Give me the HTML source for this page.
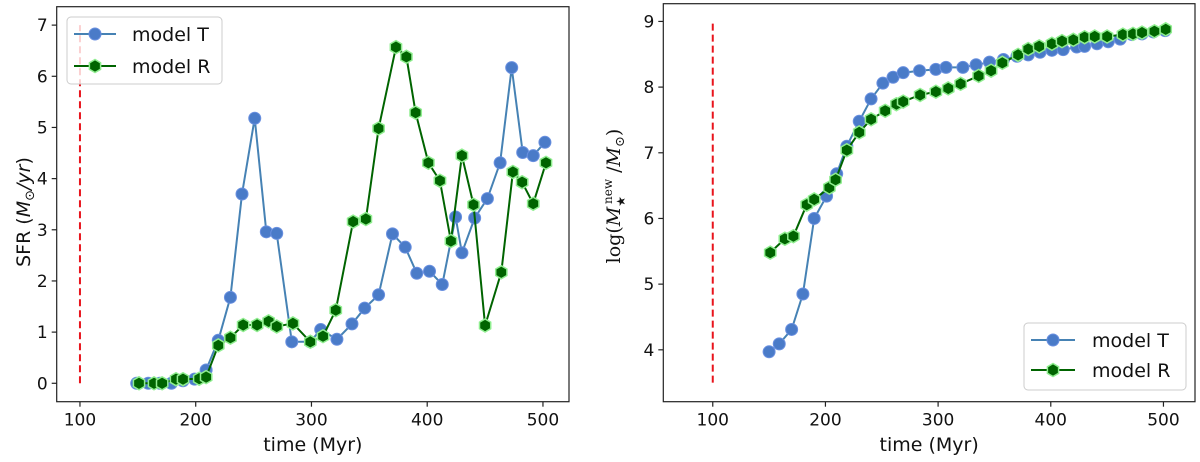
<!DOCTYPE html>
<html><head><meta charset="utf-8"><style>
body{margin:0;background:#fff}
svg{display:block;font-family:"DejaVu Sans","Liberation Sans",sans-serif}
</style></head><body>
<svg id="fig" width="1200" height="462" viewBox="0 0 1200 462"></svg>
<script>
const leftTTimes=[149,159,169,179,189,199,209,219.5,230,240,251,261,270,283,299,308,322,335,346,358,370,381,391,402,413,424.5,430,441,452,463,473,482.5,491.6,501.7];
const leftTValues=[0,0,0,0,0.05,0.08,0.26,0.84,1.68,3.70,5.18,2.96,2.93,0.81,0.81,1.05,0.86,1.16,1.47,1.73,2.92,2.66,2.15,2.19,1.93,3.25,2.55,3.23,3.61,4.31,6.17,4.51,4.45,4.71];
const leftRTimes=[151,164,171,183,189,203,209,219.5,230,241,253,263,270,284,299,310,321,336,347,358,373,382,390,401,411,420.5,430,440,450,464,474,482,491.6,502.6];
const leftRValues=[0,0,0,0.08,0.08,0.09,0.12,0.74,0.89,1.14,1.14,1.21,1.11,1.17,0.81,0.92,1.43,3.16,3.21,4.98,6.57,6.38,5.29,4.31,3.96,2.78,4.45,3.49,1.13,2.17,4.13,3.93,3.51,4.31];
const rightTTimes=[150,159,170,180,190,201,210,219,230,240.5,251,260,269,283.5,298,307,322,333.7,345.6,358,370,380,390.5,401,411,423,430,441,451,461.6,472,481,491,501.5];
const rightTValues=[3.97,4.09,4.31,4.85,6.0,6.34,6.68,7.1,7.48,7.82,8.06,8.15,8.22,8.25,8.27,8.30,8.30,8.34,8.38,8.42,8.47,8.49,8.53,8.56,8.57,8.61,8.62,8.66,8.69,8.73,8.80,8.81,8.84,8.86];
const rightRTimes=[151,164,171.6,183.4,190,203.5,209,219,230,240.5,253,263,269,284,298,309,320,336,347,357,371,380,389.7,401,410,420,430,439,450,464,473,481,492,502];
const rightRValues=[5.48,5.69,5.73,6.21,6.29,6.47,6.59,7.04,7.31,7.51,7.64,7.74,7.78,7.88,7.93,7.98,8.05,8.17,8.25,8.37,8.49,8.58,8.62,8.66,8.70,8.72,8.76,8.77,8.77,8.80,8.81,8.83,8.85,8.88];
const xTickLabels=[100,200,300,400,500];
const leftYTicks=[0,1,2,3,4,5,6,7];
const rightYTicks=[4,5,6,7,8,9];

const NS="http://www.w3.org/2000/svg";
const svg=document.getElementById('fig');
function mk(tag,attrs,parent){const e=document.createElementNS(NS,tag);for(const k in attrs)e.setAttribute(k,attrs[k]);(parent||svg).appendChild(e);return e;}

function panel(cfg){
  const g=mk('g',{});
  
  
  const sx=v=>cfg.x0+(v-cfg.xmin)/(cfg.xmax-cfg.xmin)*(cfg.x1-cfg.x0);
  const sy=v=>cfg.y1-(v-cfg.ymin)/(cfg.ymax-cfg.ymin)*(cfg.y1-cfg.y0);
  // red dashed line
  const rl=mk('line',{x1:sx(100),x2:sx(100),y1:sy(cfg.redLo),y2:sy(cfg.redHi),stroke:'#e8141c','stroke-width':2,'stroke-dasharray':'7,4'},g);
  
  
  // series
  function series(times,vals,color,isR,nm){
    const sg=mk('g',{},g);
    
    
    const pts=times.map((t,i)=>sx(t).toFixed(1)+','+sy(vals[i]).toFixed(1)).join(' ');
    mk('polyline',{points:pts,fill:'none',stroke:color,'stroke-width':2},sg);
    times.forEach((t,i)=>{
      const cx=sx(t),cy=sy(vals[i]);let m;
      if(isR){m=mk('polygon',{points:hex(cx,cy,6.5),fill:'#006400',stroke:'#90ee90','stroke-width':1.5},sg);}
      else{m=mk('circle',{cx:cx,cy:cy,r:6,fill:'#4a7bc8',stroke:'#6a90e0','stroke-width':1},sg);}
      
      
    });
  }
  series(cfg.tT,cfg.tV,'#4682b4',false,'model-t-series');
  series(cfg.rT,cfg.rV,'#006400',true,'model-r-series');
  // frame
  const fr=mk('rect',{x:cfg.x0,y:cfg.y0,width:cfg.x1-cfg.x0,height:cfg.y1-cfg.y0,fill:'none',stroke:'#222','stroke-width':1.2},g);
  
  
  xTickLabels.forEach(v=>{
    const x=sx(v);
    mk('line',{x1:x,x2:x,y1:cfg.y1,y2:cfg.y1+5,stroke:'#222','stroke-width':1.2},g);
    const t=mk('text',{x:x,y:cfg.y1+24,'text-anchor':'middle','font-size':17,fill:'#111'},g);
    t.textContent=v;
    
    
  });
  cfg.yt.forEach(v=>{
    const y=sy(v);
    mk('line',{x1:cfg.x0-5,x2:cfg.x0,y1:y,y2:y,stroke:'#222','stroke-width':1.2},g);
    const t=mk('text',{x:cfg.x0-9,y:y+6,'text-anchor':'end','font-size':17,fill:'#111'},g);
    t.textContent=v;
    
    
  });
  const xl=mk('text',{x:(cfg.x0+cfg.x1)/2,y:451,'text-anchor':'middle','font-size':19,fill:'#111'},g);
  xl.textContent='time (Myr)';
  
  
  // legend
  const L=cfg.leg;
  const lg=mk('g',{},g);
  
  
  mk('rect',{x:L.x,y:L.y,width:L.w,height:L.h,rx:4,fill:'rgba(255,255,255,0.8)',stroke:'#ccc'},lg);
  [['model T','#4682b4',false],['model R','#006400',true]].forEach((e,i)=>{
    const ly=L.ly[i];
    const eg=mk('g',{},lg);
    
    
    mk('line',{x1:L.lx0,x2:L.lx1,y1:ly,y2:ly,stroke:e[1],'stroke-width':2},eg);
    const mx=(L.lx0+L.lx1)/2;
    if(e[2])mk('polygon',{points:hex(mx,ly,6.5),fill:'#006400',stroke:'#90ee90','stroke-width':1.5},eg);
    else mk('circle',{cx:mx,cy:ly,r:6,fill:'#4a7bc8',stroke:'#6a90e0'},eg);
    const t=mk('text',{x:L.tx,y:ly+7,'font-size':19,fill:'#111'},eg);
    t.textContent=e[0];
  });
  return g;
}
function hex(cx,cy,r){let p=[];for(let k=0;k<6;k++){const a=Math.PI/6+k*Math.PI/3;p.push((cx+r*Math.cos(a)).toFixed(1)+','+(cy+r*Math.sin(a)).toFixed(1));}return p.join(' ');}

panel({name:'sfr-panel',x0:56.7,x1:569,y0:6.7,y1:401.7,xmin:79.9,xmax:522.5,ymin:-0.36,ymax:7.36,
  tT:leftTTimes,tV:leftTValues,rT:leftRTimes,rV:leftRValues,yt:leftYTicks,redLo:0,redHi:7,
  leg:{x:67,y:17,w:155,h:67,ly:[34,66],lx0:74,lx1:116,tx:132}});
panel({name:'mass-panel',x0:663.3,x1:1195,y0:3.7,y1:401.7,xmin:56.1,xmax:528,ymin:3.21,ymax:9.27,
  tT:rightTTimes,tV:rightTValues,rT:rightRTimes,rV:rightRValues,yt:rightYTicks,redLo:3.5,redHi:9,
  leg:{x:1024,y:323,w:162,h:67,ly:[340,370],lx0:1031,lx1:1075,tx:1092}});
</script>
<svg width="0" height="0"></svg>
<div style="position:absolute;left:0;top:0;width:1200px;height:462px;pointer-events:none">
<svg width="1200" height="462" style="position:absolute;left:0;top:0">
<text transform="translate(30,212) rotate(-90)" text-anchor="middle" font-size="19" fill="#111" font-family="DejaVu Sans, sans-serif">SFR (<tspan font-style="italic">M</tspan><tspan font-size="13" dy="4">⊙</tspan><tspan dy="-4" font-style="italic">/yr</tspan>)</text>
<text transform="translate(620,196) rotate(-90)" text-anchor="middle" font-size="19" fill="#111" font-family="DejaVu Serif, Liberation Serif, serif">log(<tspan font-style="italic">M</tspan><tspan font-size="12" dy="5">★</tspan><tspan font-size="12" dy="-13" dx="-8">new</tspan><tspan dy="8"> /</tspan><tspan font-style="italic">M</tspan><tspan font-size="13" dy="4">⊙</tspan><tspan dy="-4">)</tspan></text>
</svg></div>
</body></html>
